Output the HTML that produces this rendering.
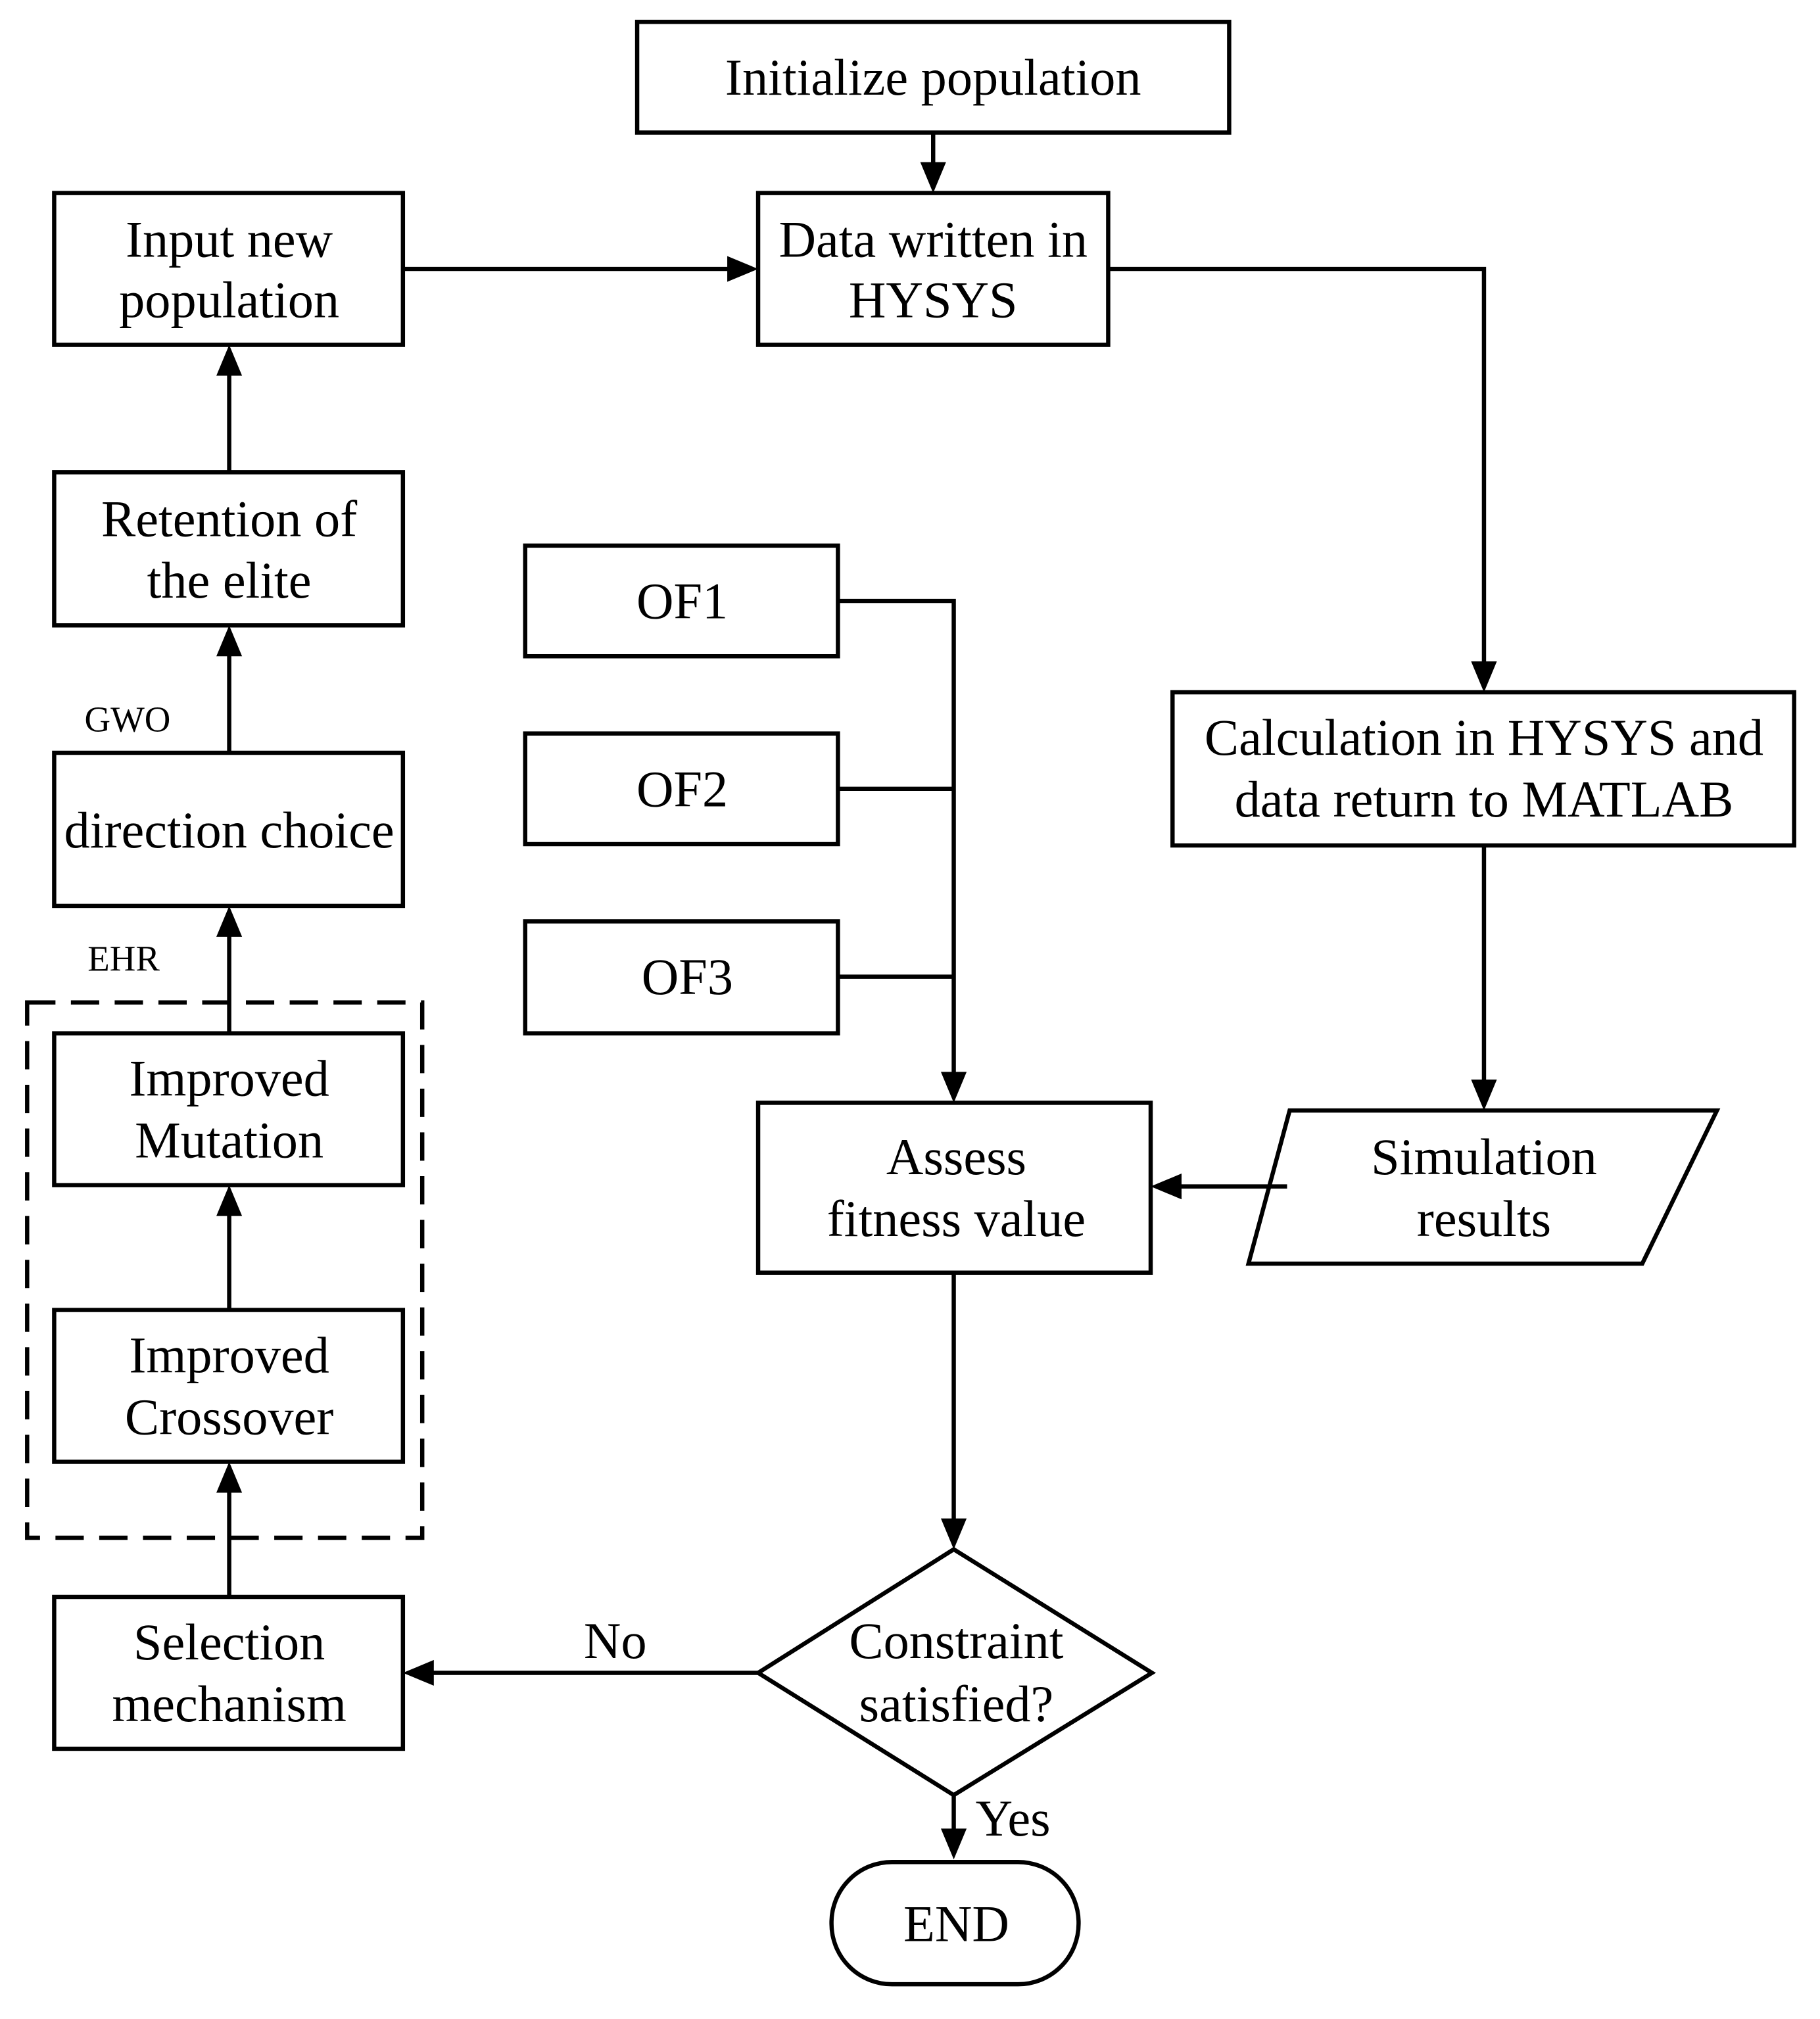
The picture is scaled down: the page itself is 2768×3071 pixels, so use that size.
<!DOCTYPE html>
<html><head><meta charset="utf-8"><style>html,body{margin:0;padding:0;background:#fff}svg{display:block}</style></head>
<body>
<svg width="2768" height="3071" viewBox="0 0 1414 1569" xmlns="http://www.w3.org/2000/svg">
<g fill="none" stroke="#000" stroke-width="3.3">
<rect x="495" y="17" width="460" height="86"/>
<rect x="589" y="150" width="272" height="118"/>
<rect x="42" y="150" width="271" height="118"/>
<rect x="911" y="538" width="483" height="119"/>
<polygon points="1002,863 1334,863 1276,982 970,982"/>
<rect x="589" y="857" width="305" height="132"/>
<polygon points="741,1204 895,1300 741,1395 589,1300"/>
<rect x="646" y="1447" width="192" height="95" rx="47" ry="47"/>
<rect x="42" y="1241" width="271" height="118"/>
<rect x="42" y="1018" width="271" height="118"/>
<rect x="42" y="803" width="271" height="118"/>
<rect x="21" y="779" width="307" height="416" stroke-dasharray="22,12"/>
<rect x="42" y="585" width="271" height="119"/>
<rect x="42" y="367" width="271" height="119"/>
<rect x="408" y="424" width="243" height="86"/>
<rect x="408" y="570" width="243" height="86"/>
<rect x="408" y="716" width="243" height="87"/>
<polyline points="725,103 725,130"/>
<polyline points="313,209 569,209"/>
<polyline points="861,209 1153,209 1153,518"/>
<polyline points="1153,657 1153,843"/>
<polyline points="1000,922 914,922"/>
<polyline points="741,989 741,1184"/>
<polyline points="741,1395 741,1425"/>
<polyline points="589,1300 333,1300"/>
<polyline points="178,1241 178,1156"/>
<polyline points="178,1018 178,942"/>
<polyline points="178,803 178,724"/>
<polyline points="178,585 178,506"/>
<polyline points="178,367 178,288"/>
<polyline points="651,467 741,467 741,837"/>
<polyline points="651,613 741,613"/>
<polyline points="651,759 741,759"/>
</g>
<g fill="#000">
<polygon points="725,150 715,126 735,126"/>
<polygon points="589,209 565,199 565,219"/>
<polygon points="1153,538 1143,514 1163,514"/>
<polygon points="1153,863 1143,839 1163,839"/>
<polygon points="894,922 918,912 918,932"/>
<polygon points="741,1204 731,1180 751,1180"/>
<polygon points="741,1445 731,1421 751,1421"/>
<polygon points="313,1300 337,1290 337,1310"/>
<polygon points="178,1136 168,1160 188,1160"/>
<polygon points="178,921 168,945 188,945"/>
<polygon points="178,704 168,728 188,728"/>
<polygon points="178,486 168,510 188,510"/>
<polygon points="178,268 168,292 188,292"/>
<polygon points="741,857 731,833 751,833"/>
</g>
<g font-family="Liberation Serif, serif" font-size="40" text-anchor="middle" dominant-baseline="central" fill="#000">
<text x="725" y="60">Initialize population</text>
<text x="725" y="186">Data written in</text>
<text x="725" y="233">HYSYS</text>
<text x="178" y="186">Input new</text>
<text x="178" y="233">population</text>
<text x="1153" y="573">Calculation in HYSYS and</text>
<text x="1153" y="621">data return to MATLAB</text>
<text x="1153" y="899">Simulation</text>
<text x="1153" y="947">results</text>
<text x="743" y="899">Assess</text>
<text x="743" y="947">fitness value</text>
<text x="743" y="1275">Constraint</text>
<text x="743" y="1324">satisfied?</text>
<text x="787" y="1413">Yes</text>
<text x="743" y="1495">END</text>
<text x="478" y="1275">No</text>
<text x="178" y="1276">Selection</text>
<text x="178" y="1324">mechanism</text>
<text x="178" y="1053">Improved</text>
<text x="178" y="1101">Crossover</text>
<text x="178" y="838">Improved</text>
<text x="178" y="886">Mutation</text>
<text x="178" y="645">direction choice</text>
<text x="178" y="403">Retention of</text>
<text x="178" y="451">the elite</text>
<text x="530" y="467">OF1</text>
<text x="530" y="613">OF2</text>
<text x="534" y="759">OF3</text>
<text x="96" y="745" font-size="28">EHR</text>
<text x="99" y="559" font-size="28">GWO</text>
</g>
</svg>
</body></html>
